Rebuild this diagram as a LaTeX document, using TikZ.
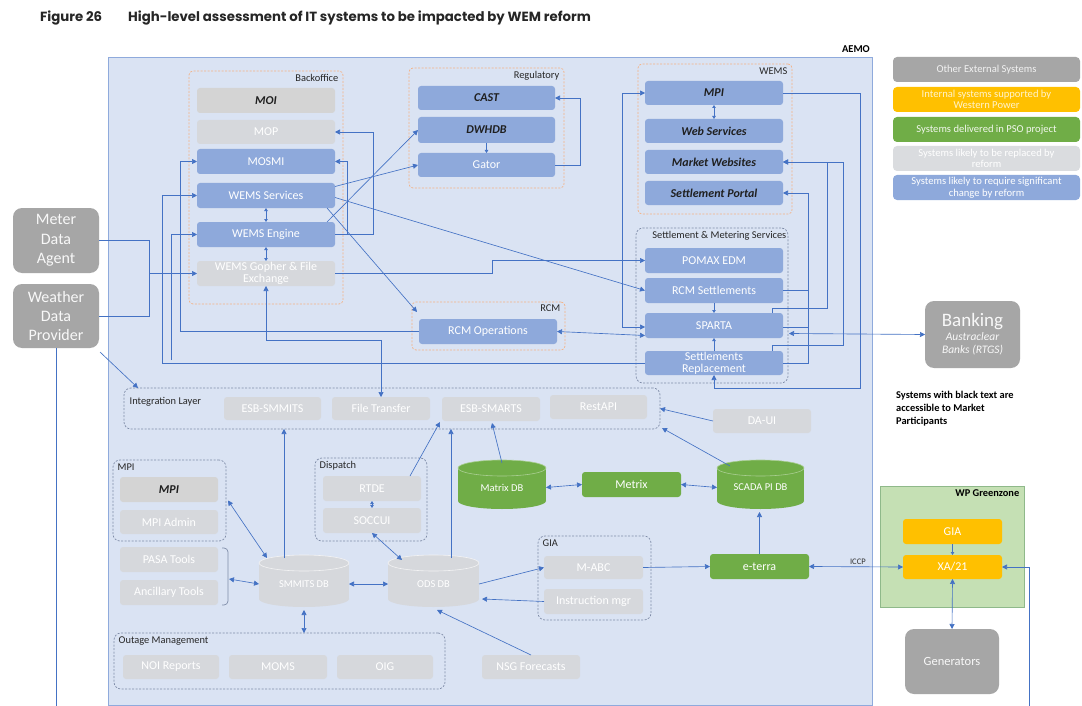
\documentclass[tikz,border=0pt]{standalone}
\usepackage{fontspec}
\setmainfont{Carlito}
\newfontfamily\titlefont{Poppins}
\usetikzlibrary{arrows.meta,calc}
\definecolor{aemobg}{HTML}{DAE3F3}
\definecolor{aemobd}{HTML}{8FAADC}
\definecolor{bl}{HTML}{8EA9DB}
\definecolor{lg}{HTML}{D6D8DC}
\definecolor{dg}{HTML}{A6A6A6}
\definecolor{gr}{HTML}{70AD47}
\definecolor{og}{HTML}{FFC000}
\definecolor{ln}{HTML}{4472C4}
\definecolor{orgrp}{HTML}{F4B183}
\definecolor{gygrp}{HTML}{7F8CA8}
\definecolor{gzbg}{HTML}{C5E0B4}
\definecolor{gzbd}{HTML}{8FB98A}
\definecolor{tt}{HTML}{262626}
\newcommand\nf{\fontsize{12}{12}\selectfont}
\newcommand\lf{\fontsize{10.6}{11.5}\selectfont}
\newcommand\gf{\fontsize{10.4}{12}\selectfont}
\newcommand\cf{\fontsize{10.5}{12}\selectfont}
\tikzset{
  box/.style={rounded corners=3pt, inner sep=0pt, outer sep=0pt, align=center, font=\nf, text=white},
  bbox/.style={box, fill=bl},
  gbox/.style={box, fill=lg},
  mbox/.style={box, fill=black!17},
  grbox/.style={box, fill=gr},
  obox/.style={box, fill=og},
  xbox/.style={box, fill=dg, text=white!92!dg, rounded corners=9pt},
  lgbox/.style={box, font=\lf, rounded corners=4pt},
  bk/.style={text=black!88, font=\nf\bfseries\itshape},
  aemo/.style={fill=aemobg, draw=aemobd, line width=0.9pt, inner sep=0pt, outer sep=0pt},
  ogrp/.style={draw=orgrp, dash pattern=on 2pt off 1.5pt, rounded corners=4pt, line width=0.7pt, inner sep=0pt, outer sep=0pt},
  ggrp/.style={draw=gygrp, dash pattern=on 2pt off 1.5pt, rounded corners=7pt, line width=0.7pt, inner sep=0pt, outer sep=0pt},
  gzone/.style={fill=gzbg, draw=gzbd, line width=0.8pt, inner sep=0pt, outer sep=0pt},
  glab/.style={font=\gf, text=black!85, inner sep=1.5pt},
  conn/.style={draw=ln, line width=0.65pt},
  arr/.style={conn, -{Triangle[length=5pt,width=5pt]}},
  darr/.style={conn, {Triangle[length=5pt,width=5pt]}-{Triangle[length=5pt,width=5pt]}},
  sarr/.style={conn, {Triangle[length=3pt,width=3.5pt]}-{Triangle[length=3pt,width=3.5pt]}},
  tarr/.style={conn, -{Triangle[length=3pt,width=3.5pt]}},
}
\newcommand\bx[7]{\node[#1, minimum width={(#5)-(#3)}, minimum height={(#6)-(#4)}] (#2) at ({((#3)+(#5))/2},{((#4)+(#6))/2}) {#7};}
\newcommand\cyl[8]{%
  \pgfmathsetmacro\cxa{((#4)+(#6))/2}%
  \pgfmathsetmacro\rxa{((#6)-(#4))/2}%
  \fill[#1] (#4,#5+8) rectangle (#6,#7-8);
  \fill[#1] (\cxa,#7-8) ellipse [x radius=\rxa pt, y radius=8pt];
  \filldraw[fill=#1, draw=#2, line width=0.6pt] (\cxa,#5+8) ellipse [x radius=\rxa pt, y radius=8pt];
  \node[inner sep=0pt, outer sep=0pt, minimum width={(#6)-(#4)}, minimum height={(#7)-(#5)}, text=white, font=\cf] (#3) at (\cxa,{((#5)+(#7))/2+3}) {#8};
}
\begin{document}
\begin{tikzpicture}[x=1pt,y=-1pt]
\useasboundingbox[fill=white] (0,0) rectangle (1082,706);
% title
\node[anchor=base west, inner sep=0pt, font=\titlefont\bfseries\fontsize{13.3}{15}\selectfont, text=tt] (fig) at (40,22) {Figure 26};
\node[anchor=base west, inner sep=0pt, font=\titlefont\bfseries\fontsize{13.3}{15}\selectfont, text=tt] (title) at (128,22) {High-level assessment of IT systems to be impacted by WEM reform};
% AEMO
\bx{aemo}{aemo}{108}{57}{872}{705}{}
\node[anchor=south east, font=\bfseries\fontsize{10.5}{12}\selectfont, inner sep=1pt] (aemolab) at (871,54) {AEMO};
% legend
\bx{lgbox,fill=dg,text=white!85!dg}{leg1}{893}{57}{1080}{82}{Other External Systems}
\bx{lgbox,fill=og,text=white!80!og}{leg2}{893}{87}{1080}{112}{Internal systems supported by\\Western Power}
\bx{lgbox,fill=gr,text=white!90!gr}{leg3}{893}{117}{1080}{142}{Systems delivered in PSO project}
\bx{lgbox,fill=lg!90!white,text=white}{leg4}{893}{146}{1080}{171}{Systems likely to be replaced by\\reform}
\bx{lgbox,fill=bl,text=white}{leg5}{893}{175}{1080}{200}{Systems likely to require significant\\change by reform}
% groups
\bx{ogrp}{bo}{189}{71}{343}{304}{}
\node[glab, anchor=north east] (bolab) at ($(bo.north east)+(-3,2)$) {Backoffice};
\bx{ogrp}{reg}{409}{68}{564}{188}{}
\node[glab, anchor=north east] (reglab) at ($(reg.north east)+(-3,2)$) {Regulatory};
\bx{ogrp}{wems}{638}{64}{792}{214}{}
\node[glab, anchor=north east] (wemslab) at ($(wems.north east)+(-3,2)$) {WEMS};
\bx{ggrp}{sms}{636}{228}{788}{383}{}
\node[glab, anchor=north east] (smslab) at ($(sms.north east)+(0,2)$) {Settlement \& Metering Services};
\bx{ogrp}{rcm}{412}{302}{565}{350}{}
\node[glab, anchor=north east] (rcmlab) at ($(rcm.north east)+(-3,1)$) {RCM};
\bx{ggrp}{IL}{124}{388}{660}{429}{}
\node[glab, anchor=west] (illab) at ($(IL.west)+(4,-7)$) {Integration Layer};
\bx{ggrp}{mpig}{113}{460}{226}{541}{}
\node[glab, anchor=north west] (mpiglab) at ($(mpig.north west)+(3,2)$) {MPI};
\bx{ggrp}{disp}{315}{458}{427}{541}{}
\node[glab, anchor=north west] (displab) at ($(disp.north west)+(3,2)$) {Dispatch};
\bx{ggrp}{outg}{114}{633}{445}{689}{}
\node[glab, anchor=north west] (outglab) at ($(outg.north west)+(3,2)$) {Outage Management};
\bx{ggrp}{giag}{538}{536}{651}{620}{}
\node[glab, anchor=north west] (giaglab) at ($(giag.north west)+(3,2)$) {GIA};
\bx{gzone}{gz}{880}{486}{1024}{607}{}
\node[glab, anchor=north east, font=\gf\bfseries, text=black] (gzlab) at ($(gz.north east)+(-3,2)$) {WP Greenzone};
% backoffice
\bx{mbox,bk}{MOI}{197}{88}{335}{113}{MOI}
\bx{gbox}{MOP}{197}{120}{335}{144}{MOP}
\bx{bbox}{MOSMI}{197}{149}{335}{174}{MOSMI}
\bx{bbox}{WServ}{197}{183}{335}{208}{WEMS Services}
\bx{bbox}{WEng}{197}{222}{335}{247}{WEMS Engine}
\bx{gbox}{Gopher}{197}{261}{335}{286}{WEMS Gopher \& File\\Exchange}
% regulatory
\bx{bbox,bk}{CAST}{418}{86}{555}{110}{CAST}
\bx{bbox,bk}{DWHDB}{418}{117}{555}{143}{DWHDB}
\bx{bbox}{Gator}{418}{153}{555}{177}{Gator}
% WEMS
\bx{bbox,bk}{MPI}{645}{81}{783}{105}{MPI}
\bx{bbox,bk}{WebS}{645}{119}{783}{143}{Web Services}
\bx{bbox,bk}{MktW}{645}{150}{783}{174}{Market Websites}
\bx{bbox,bk}{SettP}{645}{181}{783}{205}{Settlement Portal}
% settlement and metering
\bx{bbox}{POMAX}{645}{248}{783}{273}{POMAX EDM}
\bx{bbox}{RCMSett}{645}{278}{783}{303}{RCM Settlements}
\bx{bbox}{SPARTA}{645}{313}{783}{338}{SPARTA}
\bx{bbox}{SettRepl}{645}{351}{783}{375}{Settlements\\Replacement}
% RCM
\bx{bbox}{RCMOps}{419}{319}{557}{344}{RCM Operations}
% externals
\bx{xbox,font=\fontsize{16}{19.5}\selectfont}{MDA}{13}{208}{99}{273}{Meter\\Data\\Agent}
\bx{xbox,font=\fontsize{16}{19}\selectfont}{WDP}{13}{284}{99}{348}{Weather\\Data\\Provider}
\bx{xbox,font=\fontsize{11.5}{13.5}\selectfont\itshape}{Banking}{925}{301}{1020}{368}{{\fontsize{19}{19}\selectfont\upshape Banking}\\Austraclear\\Banks (RTGS)}
\bx{xbox,font=\fontsize{12.5}{14}\selectfont}{Gen}{905}{629}{999}{694}{Generators}
\node[anchor=north west, align=left, font=\bfseries\fontsize{10.4}{13}\selectfont, inner sep=0pt] (note) at (896,391) {Systems with black text are\\accessible to Market\\Participants};
% integration layer
\bx{gbox}{ESBM}{224}{397}{321}{420}{ESB-SMMITS}
\bx{gbox}{FT}{332}{397}{430}{420}{File Transfer}
\bx{gbox}{ESBS}{442}{397}{540}{421}{ESB-SMARTS}
\bx{gbox}{Rest}{550}{395}{647}{419}{RestAPI}
\bx{gbox}{DAUI}{713}{409}{811}{433}{DA-UI}
% MPI etc
\bx{mbox,bk}{MPIb}{120}{477}{218}{502}{MPI}
\bx{gbox}{MPIAdm}{120}{510}{218}{534}{MPI Admin}
\bx{gbox}{PASA}{120}{547}{218}{572}{PASA Tools}
\bx{gbox}{Anc}{120}{580}{218}{605}{Ancillary Tools}
\draw[draw=gygrp, line width=0.7pt, rounded corners=4pt] (222,548) -- (228,548) -- (228,605) -- (222,605);
\coordinate (brk) at (229,579);
% dispatch
\bx{gbox}{RTDE}{323}{476}{421}{501}{RTDE}
\bx{gbox}{SOCC}{323}{508}{421}{533}{SOCCUI}
% DBs
\cyl{lg}{white!70!lg}{SMDB}{259}{555}{349}{607}{SMMITS DB}
\cyl{lg}{white!70!lg}{ODS}{388}{555}{479}{607}{ODS DB}
\cyl{gr}{white!40!gr}{MatDB}{458}{460}{546}{509}{Matrix DB}
\cyl{gr}{white!40!gr}{SCADA}{717}{460}{804}{509}{SCADA PI DB}
\bx{grbox}{Metrix}{582}{472}{681}{497}{Metrix}
\bx{grbox}{eterra}{710}{554}{809}{579}{e-terra}
% outage
\bx{gbox}{NOI}{123}{655}{219}{679}{NOI Reports}
\bx{gbox}{MOMS}{229}{655}{327}{679}{MOMS}
\bx{gbox}{OIG}{337}{655}{433}{679}{OIG}
\bx{gbox}{NSG}{482}{655}{580}{679}{NSG Forecasts}
% GIA
\bx{gbox}{MABC}{544}{556}{643}{579}{M-ABC}
\bx{gbox}{Instr}{544}{589}{643}{614}{Instruction mgr}
% greenzone
\bx{obox}{GIA}{903}{519}{1002}{544}{GIA}
\bx{obox}{XA}{903}{555}{1002}{579}{XA/21}
% ---------------- connectors
\draw[arr] (MDA.east) -- (149,240.5) |- (Gopher.west);
\draw[conn] (WDP.east) -| (149,273.5);
\coordinate (wdpend) at (56,706);
\draw[conn] (WDP.south) -- (wdpend);
\draw[arr] ($(WDP.south east)+(1,4)$) -- ($(IL.north west)+(14,0)$);
\draw[arr] (RCMOps.west) -| ($(MOSMI.west)+(-17,0)$) -- (MOSMI.west);
\draw[arr] (SettRepl.west) -| ($(WServ.west)+(-35,0)$) -- (WServ.west);
\draw[arr] ($(SettRepl.west)+(-474,-3)$) |- (WEng.west);
\draw[darr] (Gopher.south) |- ($(FT.north)+(0,-57)$) -- (FT.north);
\draw[sarr] (WServ.south) -- (WEng.north);
\draw[sarr] (WEng.south) -- (Gopher.north);
\draw[arr] (WEng.east) -| ($(MOP.east)+(38,0)$) -- (MOP.east);
\draw[arr] ($(WEng.east)+(12,0)$) |- (MOSMI.east);
\draw[arr] ($(WServ.east)+(0,-9)$) -- (Gator.west);
\draw[arr] ($(WEng.north east)+(-8,0)$) -- (DWHDB.west);
\draw[arr] ($(WServ.south east)+(-8,0)$) -- ($(rcm.north west)+(5,10)$);
\draw[arr] ($(WServ.east)+(0,2)$) -- (RCMSett.west);
\draw[arr] (Gopher.east) -- (492,273.5) |- (POMAX.west);
\draw[arr] (Gator.east) -| ($(CAST.east)+(25,0)$) -- (CAST.east);
\draw[tarr] (DWHDB.south) -- (Gator.north);
\draw[sarr] (MPI.south) -- (WebS.north);
\draw[darr] ($(SPARTA.west)+(0,1.5)$) -| ($(MPI.west)+(-23,0)$) -- (MPI.west);
\draw[darr] (RCMOps.east) -- ($(SPARTA.west)+(0,10)$);
\draw[tarr] (RCMSett.south) -- (SPARTA.north);
\draw[tarr] (SettRepl.north) -- (SPARTA.south);
\draw[arr] (MPI.east) -| ($(SettRepl.south)+(146,13)$) -| (SettRepl.south);
\draw[arr] ($(SPARTA.north east)+(-11,0)$) |- (827,308) |- (MktW.east);
\draw[arr] ($(SettRepl.north east)+(-11,0)$) |- (843,345) |- (MktW.east);
\draw[arr] (SettRepl.east) -| ($(SettP.east)+(25,0)$) -- (SettP.east);
\draw[conn] (RCMSett.east) -- ++(25,0);
\draw[conn] ($(SPARTA.east)+(0,1.5)$) -- ++(25,0);
\draw[darr] (Banking.west) -- ($(SPARTA.east)+(6,8)$);
\coordinate (s1) at ($(SMDB.north)+(-20,0)$);
\draw[arr] (s1) -- (s1 |- IL.south);
\coordinate (s2) at ($(ODS.north)+(17.5,0)$);
\draw[arr] (s2) -- (s2 |- IL.south);
\draw[arr] ($(RTDE.north east)+(-11,0)$) -- ($(ESBS.south west)+(-2,1)$);
\draw[arr] (MatDB.north) -- ($(ESBS.south)+(1,2)$);
\draw[arr] ($(SCADA.north west)+(13,3)$) -- ($(IL.south east)+(2,-1)$);
\draw[arr] (DAUI.west) -- (IL.east);
\draw[darr] (MatDB.east) -- (Metrix.west);
\draw[darr] (Metrix.east) -- (SCADA.west);
\draw[arr] (eterra.north) -- (eterra.north |- SCADA.south);
\draw[arr] (MABC.east) -- (eterra.west);
\draw[arr] ($(ODS.east)+(0,0)$) -- (MABC.west);
\draw[arr] (Instr.west) -- ($(ODS.east)+(3,15)$);
\draw[arr] (NSG.north) -- ($(ODS.south west)+(49,0)$);
\draw[darr] ($(mpig.east)+(2,0)$) -- ($(SMDB.north west)+(8,0)$);
\draw[darr] (brk) -- (SMDB.west);
\draw[darr] (SMDB.east) -- (ODS.west);
\draw[darr] (SOCC.south) -- ($(ODS.north west)+(14,2)$);
\draw[darr] (SMDB.south) -- (SMDB.south |- outg.north);
\draw[sarr] (RTDE.south) -- (SOCC.north);
\draw[darr] (XA.west) -- node[pos=0.48, above, font=\fontsize{8.5}{10}\selectfont, text=black!80, inner sep=1.5pt] (iccp) {ICCP} (eterra.east);
\draw[tarr] (GIA.south) -- (XA.north);
\draw[darr] (XA.south) -- (Gen.north);
\coordinate (xaend) at (1029,706);
\draw[arr] (xaend) |- (XA.east);
\end{tikzpicture}
\end{document}
